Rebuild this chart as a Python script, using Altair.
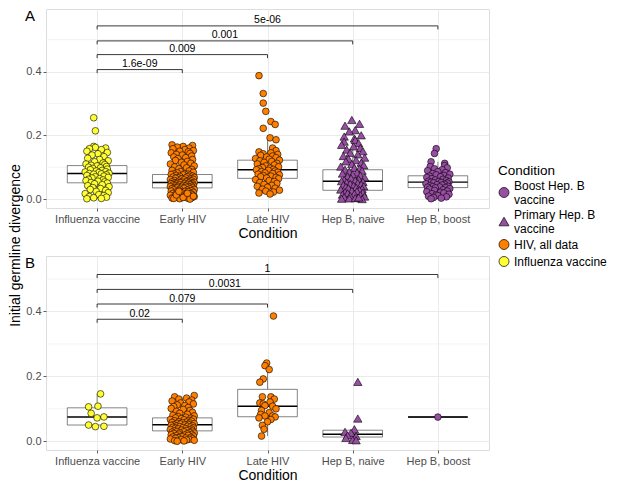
import json
import altair as alt
import pandas as pd

# ---------------- data ----------------
CATS = ["Influenza vaccine", "Early HIV", "Late HIV", "Hep B, naive", "Hep B, boost"]
GROUP_OF_CAT = ["Influenza vaccine", "HIV, all data", "HIV, all data",
                "Primary Hep. B vaccine", "Boost Hep. B vaccine"]
LEGEND_ORDER = ["Boost Hep. B vaccine", "Primary Hep. B vaccine", "HIV, all data", "Influenza vaccine"]
LEGEND_LINES = {"Boost Hep. B vaccine": ["Boost Hep. B", "vaccine"],
                "Primary Hep. B vaccine": ["Primary Hep. B", "vaccine"]}
COLORS = ["#984EA3", "#984EA3", "#FF7F00", "#FFFF33"]
SHAPES = ["circle", "triangle-up", "circle", "circle"]

# jitter offsets (category units)
JITTER = [-0.04, -0.02, 0.10, -0.09, 0.05, -0.12, 0.12, 0.01, -0.06, 0.08,
          -0.11, 0.03, 0.13, -0.03, 0.07, -0.13, 0.09, -0.07, 0.00, 0.11,
          -0.10, 0.04, -0.05, 0.12, -0.08, 0.06, -0.01, 0.10, -0.14, 0.02,
          0.14, -0.09, 0.05, -0.04, 0.11, -0.12, 0.08, -0.02, 0.13, -0.06,
          0.03, -0.10, 0.07, -0.13, 0.01, 0.09, -0.07, 0.12, -0.03, 0.06,
          -0.11, 0.14, -0.05, 0.04, -0.08, 0.10, -0.01, 0.13, -0.14, 0.02,
          0.08, -0.09, 0.11, -0.04, 0.05, -0.12, 0.00, 0.09, -0.06, 0.14,
          -0.02, 0.07, -0.10, 0.03, -0.13, 0.12, -0.07, 0.06, -0.03, 0.10,
          -0.11, 0.01, 0.13, -0.08, 0.04, -0.05, 0.11, -0.14, 0.08, -0.01,
          0.05, -0.09, 0.12, -0.06, 0.02, -0.12, 0.09, -0.03, 0.14, -0.10,
          0.06, -0.04, 0.11, -0.13, 0.03, 0.07, -0.07, 0.13, -0.02, 0.00,
          -0.11, 0.10, -0.05, 0.04, -0.08, 0.12, -0.14, 0.08, -0.01, 0.05,
          0.14, -0.09, 0.02, -0.06, 0.11, -0.12, 0.07, -0.03, 0.09, -0.10,
          0.01, 0.13, -0.07, 0.06, -0.04, 0.10, -0.13, 0.03, -0.11, 0.12,
          -0.02, 0.08, -0.08, 0.04, -0.05, 0.14, -0.12, 0.00, 0.11, -0.06]

# ---- Panel A values ----
A_FLU_OUT = [0.255, 0.214]
A_FLU_OUT_DX = [-0.04, -0.02]
A_FLU = [0.165, 0.162, 0.160, 0.158, 0.155, 0.150, 0.146, 0.142, 0.138, 0.133,
         0.128, 0.124, 0.120, 0.117, 0.113, 0.110, 0.108, 0.106, 0.104, 0.102,
         0.100, 0.098, 0.096, 0.094, 0.092, 0.090, 0.088, 0.086, 0.085, 0.083,
         0.081, 0.080, 0.079, 0.078, 0.076, 0.074, 0.072, 0.070, 0.068, 0.066,
         0.064, 0.062, 0.060, 0.058, 0.056, 0.054, 0.052, 0.050, 0.048, 0.045,
         0.042, 0.039, 0.036, 0.033, 0.030, 0.027, 0.024, 0.020, 0.017, 0.014,
         0.011, 0.008, 0.006, 0.004, 0.002, 0.001]
A_EARLY = [0.170, 0.168, 0.165, 0.163, 0.160, 0.158, 0.155, 0.152, 0.150, 0.148,
           0.145, 0.143, 0.140, 0.138, 0.135, 0.132, 0.130, 0.127, 0.124, 0.121,
           0.118, 0.115, 0.112, 0.110, 0.107, 0.104, 0.101, 0.098, 0.095, 0.093,
           0.090, 0.088, 0.086, 0.084, 0.082, 0.080, 0.079, 0.078, 0.077, 0.076,
           0.075, 0.074, 0.072, 0.071, 0.070, 0.069, 0.068, 0.067, 0.066, 0.065,
           0.064, 0.063, 0.062, 0.061, 0.060, 0.059, 0.058, 0.057, 0.056, 0.055,
           0.054, 0.053, 0.053, 0.052, 0.052, 0.051, 0.050, 0.050, 0.049, 0.048,
           0.048, 0.047, 0.046, 0.045, 0.045, 0.044, 0.043, 0.042, 0.042, 0.041,
           0.040, 0.040, 0.039, 0.038, 0.037, 0.037, 0.036, 0.035, 0.035, 0.034,
           0.033, 0.032, 0.031, 0.030, 0.029, 0.028, 0.027, 0.026, 0.025, 0.024,
           0.023, 0.022, 0.021, 0.020, 0.019, 0.018, 0.017, 0.016, 0.015, 0.014,
           0.013, 0.012, 0.011, 0.010, 0.009, 0.008, 0.007, 0.006, 0.005, 0.004,
           0.003, 0.002, 0.001, 0.000, 0.002, 0.005, 0.009, 0.013, 0.018, 0.024]
A_LATE_OUT = [0.387, 0.331, 0.301, 0.275, 0.243, 0.234, 0.222, 0.192, 0.186, 0.160, 0.152]
A_LATE_OUT_DX = [-0.10, -0.05, -0.05, -0.02, 0.04, 0.09, -0.05, 0.03, 0.10, 0.06, 0.10]
A_LATE = [0.148, 0.145, 0.142, 0.140, 0.137, 0.135, 0.132, 0.130, 0.127, 0.125,
          0.122, 0.120, 0.118, 0.115, 0.112, 0.110, 0.107, 0.104, 0.101, 0.099,
          0.097, 0.095, 0.093, 0.092, 0.090, 0.088, 0.086, 0.084, 0.082, 0.080,
          0.078, 0.076, 0.074, 0.072, 0.070, 0.068, 0.066, 0.064, 0.061, 0.058,
          0.055, 0.052, 0.049, 0.046, 0.043, 0.040, 0.037, 0.034, 0.031, 0.028,
          0.025, 0.022, 0.019, 0.016]
A_NAIVE_OUT = [0.248, 0.236, 0.230, 0.216, 0.212, 0.200, 0.196, 0.190]
A_NAIVE_OUT_DX = [-0.01, 0.08, -0.09, 0.03, -0.04, 0.10, -0.10, 0.02]
A_NAIVE = [0.185, 0.180, 0.175, 0.170, 0.165, 0.160, 0.155, 0.150, 0.145, 0.140,
           0.135, 0.130, 0.126, 0.122, 0.118, 0.114, 0.110, 0.106, 0.102, 0.098,
           0.095, 0.092, 0.089, 0.086, 0.083, 0.080, 0.077, 0.074, 0.071, 0.068,
           0.065, 0.062, 0.060, 0.058, 0.056, 0.054, 0.052, 0.050, 0.048, 0.046,
           0.044, 0.042, 0.040, 0.038, 0.036, 0.034, 0.032, 0.030, 0.028, 0.026,
           0.024, 0.022, 0.020, 0.018, 0.016, 0.014, 0.012, 0.010, 0.008, 0.006,
           0.004, 0.002, 0.000, 0.001, 0.003, 0.005]
A_BOOST_OUT = [0.158, 0.143, 0.117, 0.112]
A_BOOST_OUT_DX = [-0.02, -0.04, -0.08, 0.08]
A_BOOST = [0.105, 0.102, 0.098, 0.095, 0.092, 0.089, 0.086, 0.083, 0.080, 0.078,
           0.076, 0.074, 0.072, 0.070, 0.068, 0.066, 0.064, 0.062, 0.060, 0.058,
           0.056, 0.055, 0.054, 0.053, 0.052, 0.051, 0.050, 0.048, 0.046, 0.045,
           0.044, 0.042, 0.040, 0.039, 0.038, 0.037, 0.036, 0.035, 0.033, 0.031,
           0.029, 0.027, 0.025, 0.023, 0.021, 0.019, 0.017, 0.015, 0.013, 0.011,
           0.009, 0.007, 0.005, 0.003, 0.001]
# box stats per category: q1, median, q3, lower whisker, upper whisker
A_Q1 = [0.051, 0.035, 0.065, 0.0275, 0.036]
A_MED = [0.080, 0.052, 0.092, 0.056, 0.053]
A_Q3 = [0.105, 0.077, 0.122, 0.092, 0.073]
A_LO = [0.000, 0.000, 0.016, 0.000, 0.001]
A_HI = [0.165, 0.140, 0.192, 0.185, 0.117]
A_BR_Y = [0.406, 0.453, 0.496, 0.543]
A_BR_TXT = ["1.6e-09", "0.009", "0.001", "5e-06"]

# ---- Panel B values ----
B_FLU = [0.146, 0.106, 0.108, 0.086, 0.072, 0.075, 0.050, 0.045, 0.046]
B_FLU_DX = [0.04, -0.10, 0.01, -0.07, 0.00, 0.08, -0.10, -0.02, 0.08]
B_EARLY = [0.141, 0.137, 0.133, 0.130, 0.127, 0.124, 0.121, 0.118, 0.115, 0.112,
           0.110, 0.107, 0.104, 0.101, 0.098, 0.095, 0.092, 0.089, 0.086, 0.083,
           0.080, 0.078, 0.076, 0.074, 0.072, 0.071, 0.070, 0.068, 0.067, 0.066,
           0.064, 0.063, 0.062, 0.060, 0.059, 0.058, 0.057, 0.056, 0.055, 0.054,
           0.053, 0.052, 0.051, 0.050, 0.049, 0.048, 0.047, 0.046, 0.045, 0.044,
           0.043, 0.042, 0.041, 0.040, 0.039, 0.038, 0.037, 0.036, 0.035, 0.034,
           0.033, 0.032, 0.031, 0.030, 0.029, 0.028, 0.027, 0.026, 0.025, 0.024,
           0.023, 0.022, 0.021, 0.020, 0.019, 0.018, 0.017, 0.016, 0.015, 0.014,
           0.013, 0.012, 0.011, 0.010, 0.009, 0.008, 0.007, 0.006, 0.005, 0.004,
           0.003, 0.002, 0.001, 0.000]
B_LATE = [0.386, 0.241, 0.233, 0.221, 0.192, 0.182, 0.137, 0.137, 0.130, 0.121,
          0.118, 0.115, 0.110, 0.108, 0.100, 0.095, 0.088, 0.083, 0.078, 0.078,
          0.075, 0.072, 0.067, 0.060, 0.049, 0.037, 0.016]
B_LATE_DX = [0.07, -0.01, -0.03, 0.02, -0.05, -0.09, -0.06, 0.04, 0.08, 0.03,
             -0.09, -0.05, -0.03, 0.06, 0.10, -0.07, 0.02, -0.08, -0.03, 0.06,
             0.09, -0.10, 0.04, 0.00, -0.06, -0.04, -0.07]
B_NAIVE = [0.183, 0.070, 0.037, 0.029, 0.026, 0.018, 0.016, 0.010, 0.004, 0.003]
B_NAIVE_DX = [0.06, 0.06, 0.02, -0.09, -0.02, -0.06, 0.04, -0.08, 0.00, 0.04]
B_BOOST = [0.0745]
B_BOOST_DX = [0.0]
B_Q1 = [0.050, 0.032, 0.0755, 0.013, 0.0745]
B_MED = [0.0745, 0.051, 0.108, 0.0215, 0.0745]
B_Q3 = [0.103, 0.072, 0.160, 0.034, 0.0745]
B_LO = [0.042, 0.000, 0.016, 0.003, 0.0745]
B_HI = [0.146, 0.134, 0.241, 0.037, 0.0745]
B_BR_Y = [0.376, 0.423, 0.468, 0.514]
B_BR_TXT = ["0.02", "0.079", "0.0031", "1"]

BR_END = [2, 3, 4, 5]
MINOR = [0.1, 0.3, 0.5]
MAJOR = [0.0, 0.2, 0.4]


# ---------------- tables ----------------
def points_table(groups):
    rows = []
    for idx, ys, dxs in groups:
        for v, d in zip(ys, dxs):
            rows.append({"pos": idx + d, "val": v, "cond": GROUP_OF_CAT[idx - 1]})
    return pd.DataFrame(rows)


def box_table(q1, med, q3, lo, hi):
    rows = []
    for i in range(5):
        rows.append({"x": i + 1, "xa": i + 1 - 0.35, "xb": i + 1 + 0.35,
                     "q1": q1[i], "med": med[i], "q3": q3[i], "lo": lo[i], "hi": hi[i]})
    return pd.DataFrame(rows)


def bracket_tables(heights, texts):
    lines, ticks, labels = [], [], []
    for end, h, t in zip(BR_END, heights, texts):
        lines.append({"x": 1, "x2": end, "y": h})
        ticks.append({"x": 1, "y": h, "y2": h - 0.011})
        ticks.append({"x": end, "y": h, "y2": h - 0.011})
        labels.append({"x": (1 + end) / 2, "y": h, "t": t})
    return pd.DataFrame(lines), pd.DataFrame(ticks), pd.DataFrame(labels)


ptsA = points_table([
    (1, A_FLU_OUT + A_FLU, A_FLU_OUT_DX + JITTER[:len(A_FLU)]),
    (2, A_EARLY, JITTER[5:5 + len(A_EARLY)]),
    (3, A_LATE_OUT + A_LATE, A_LATE_OUT_DX + JITTER[20:20 + len(A_LATE)]),
    (4, A_NAIVE_OUT + A_NAIVE, A_NAIVE_OUT_DX + JITTER[40:40 + len(A_NAIVE)]),
    (5, A_BOOST_OUT + A_BOOST, A_BOOST_OUT_DX + JITTER[60:60 + len(A_BOOST)]),
])
ptsB = points_table([
    (1, B_FLU, B_FLU_DX),
    (2, B_EARLY, JITTER[30:30 + len(B_EARLY)]),
    (3, B_LATE, B_LATE_DX),
    (4, B_NAIVE, B_NAIVE_DX),
    (5, B_BOOST, B_BOOST_DX),
])
boxA = box_table(A_Q1, A_MED, A_Q3, A_LO, A_HI)
boxB = box_table(B_Q1, B_MED, B_Q3, B_LO, B_HI)

FONT = "Liberation Sans"
label_expr = json.dumps(CATS) + "[datum.value - 1]"
legend_expr = "datum.label"
for k, v in LEGEND_LINES.items():
    legend_expr = f"datum.label == {json.dumps(k)} ? {json.dumps(v)} : " + legend_expr
baseline_expr = ("indexof(" + json.dumps(list(LEGEND_LINES.keys())) +
                 ", datum.label) >= 0 ? 'bottom' : 'middle'")


def make_panel(letter, pts, box, br_y, br_txt, ydom, height, legend_y):
    xs = alt.Scale(domain=[0.4, 5.6], nice=False, zero=False)
    ys = alt.Scale(domain=ydom, nice=False, zero=False)
    xax = alt.Axis(values=[1, 2, 3, 4, 5], labelExpr=label_expr, title="Condition",
                   grid=True, gridColor="#EBEBEB", gridWidth=1, domain=False,
                   tickColor="#333333", tickSize=3, tickWidth=0.8,
                   labelColor="#4D4D4D", labelFontSize=11, labelPadding=2,
                   titleFontSize=14, titleFontWeight="normal", titleColor="black",
                   titlePadding=2, labelFont=FONT, titleFont=FONT)
    yax = alt.Axis(values=MAJOR, format=".1f", title=None, grid=True,
                   gridColor="#EBEBEB", gridWidth=1, domain=False,
                   tickColor="#333333", tickSize=3, tickWidth=0.8,
                   labelColor="#4D4D4D", labelFontSize=11, labelPadding=2, labelFont=FONT)

    minor = alt.Chart(pd.DataFrame({"m": MINOR})).mark_rule(
        color="#EBEBEB", strokeWidth=0.6).encode(y=alt.Y("m:Q", scale=ys, axis=yax))

    base_box = alt.Chart(box)
    whisk_hi = base_box.mark_rule(color="#333333", strokeWidth=0.6).encode(
        x=alt.X("x:Q", scale=xs, axis=xax), y=alt.Y("q3:Q", scale=ys), y2="hi:Q")
    whisk_lo = base_box.mark_rule(color="#333333", strokeWidth=0.6).encode(
        x=alt.X("x:Q", scale=xs), y=alt.Y("lo:Q", scale=ys), y2="q1:Q")
    boxes = base_box.mark_bar(fill="white", stroke="#333333", strokeWidth=0.6).encode(
        x=alt.X("xa:Q", scale=xs), x2="xb:Q", y=alt.Y("q1:Q", scale=ys), y2="q3:Q")
    medians = base_box.mark_rule(color="black", strokeWidth=1.4).encode(
        x=alt.X("xa:Q", scale=xs), x2="xb:Q", y=alt.Y("med:Q", scale=ys))

    leg = alt.Legend(title="Condition", orient="none", legendX=452, legendY=legend_y,
                     labelExpr=legend_expr, symbolSize=100, symbolStrokeColor="black",
                     symbolStrokeWidth=0.7, labelFontSize=12, titleFontSize=13.5,
                     titleFontWeight="normal", labelFont=FONT, titleFont=FONT,
                     labelColor="black", titleColor="black", titlePadding=9, rowPadding=3,
                     labelBaseline=alt.ExprRef(expr=baseline_expr))
    color = alt.Color("cond:N", scale=alt.Scale(domain=LEGEND_ORDER, range=COLORS), legend=leg)
    shape = alt.Shape("cond:N", scale=alt.Scale(domain=LEGEND_ORDER, range=SHAPES), legend=leg)

    circ = alt.Chart(pts).transform_filter(
        "datum.cond != 'Primary Hep. B vaccine'").mark_point(
        filled=True, size=45, stroke="black", strokeWidth=0.6, opacity=1).encode(
        x=alt.X("pos:Q", scale=xs), y=alt.Y("val:Q", scale=ys), color=color, shape=shape)
    tri = alt.Chart(pts).transform_filter(
        "datum.cond == 'Primary Hep. B vaccine'").mark_point(
        filled=True, size=70, stroke="black", strokeWidth=0.6, opacity=1).encode(
        x=alt.X("pos:Q", scale=xs), y=alt.Y("val:Q", scale=ys), color=color, shape=shape)

    lines, ticks, labels = bracket_tables(br_y, br_txt)
    br_lines = alt.Chart(lines).mark_rule(color="#222222", strokeWidth=0.9).encode(
        x=alt.X("x:Q", scale=xs), x2="x2:Q", y=alt.Y("y:Q", scale=ys))
    br_ticks = alt.Chart(ticks).mark_rule(color="#222222", strokeWidth=0.9).encode(
        x=alt.X("x:Q", scale=xs), y=alt.Y("y:Q", scale=ys), y2="y2:Q")
    br_text = alt.Chart(labels).mark_text(fontSize=10.5, font=FONT, color="black",
                                          baseline="alphabetic", dy=-2.5).encode(
        x=alt.X("x:Q", scale=xs), y=alt.Y("y:Q", scale=ys), text="t:N")

    letter_mark = alt.Chart(pd.DataFrame({"t": [letter]})).mark_text(
        fontSize=15, font=FONT, color="black", align="left", baseline="top").encode(
        x=alt.value(-21), y=alt.value(0), text="t:N")

    return alt.layer(minor, whisk_hi, whisk_lo, boxes, medians, circ, tri,
                     br_lines, br_ticks, br_text, letter_mark).properties(
        width=443, height=height)


panelA = make_panel("A", ptsA, boxA, A_BR_Y, A_BR_TXT, [-0.028, 0.596], 199, 155)
panelB = make_panel("B", ptsB, boxB, B_BR_Y, B_BR_TXT, [-0.027, 0.571], 194, 155)

chart = alt.vconcat(panelA, panelB, spacing=14).properties(
    title=alt.TitleParams("Initial germline divergence", orient="left", anchor="middle",
                          fontSize=14, fontWeight="normal", font=FONT, color="black",
                          offset=2),
    padding={"left": 0, "top": 0, "right": 0, "bottom": 0},
).configure_view(stroke="#333333", strokeWidth=1).configure(font=FONT)

chart.save("out.html", embed_options={"renderer": "svg", "actions": False})
